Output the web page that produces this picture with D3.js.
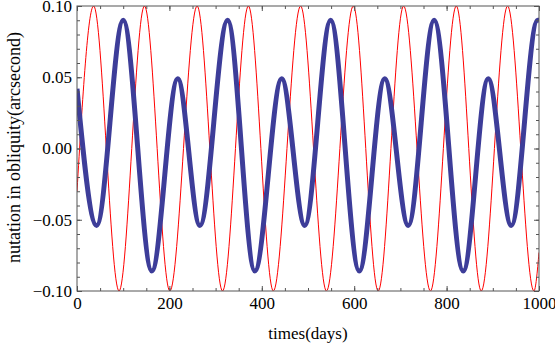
<!DOCTYPE html>
<html>
<head>
<meta charset="utf-8">
<script src="https://cdn.jsdelivr.net/npm/d3@7"></script>
<style>
  body { margin: 0; background: #fff; }
  text { font-family: "Liberation Serif", "Times New Roman", serif; }
</style>
</head>
<body>
<svg id="chart" width="555" height="345"></svg>
<script>
// red curve: extremes
const redDays = [0, 36, 91, 146, 201, 260, 315, 371, 425, 484, 540, 598, 652, 707, 765, 821, 875, 932, 989, 1000];
const redVals = [-0.03, 0.1, -0.1, 0.1, -0.1, 0.1, -0.1, 0.1, -0.1, 0.1, -0.1, 0.1, -0.1, 0.1, -0.1, 0.1, -0.1, 0.1, -0.1, -0.073];

// blue curve: extremes
const blueDays = [0, 42.5, 100, 162, 218, 266, 326, 385, 443, 493, 549, 611, 666, 717, 773, 836, 890, 940, 997, 1000];
const blueVals = [0.042, -0.054, 0.09, -0.086, 0.049, -0.054, 0.09, -0.086, 0.049, -0.054, 0.09, -0.086, 0.049, -0.054, 0.09, -0.086, 0.049, -0.054, 0.09, 0.0899];

const xTicks = [0, 200, 400, 600, 800, 1000];
const yTicks = [-0.10, -0.05, 0.00, 0.05, 0.10];

const svg = d3.select('#chart');
const margin = { top: 6, right: 16, bottom: 54, left: 77 };
const width = 555 - margin.left - margin.right;
const height = 345 - margin.top - margin.bottom;

const g = svg.append('g')
    .attr('transform', `translate(${margin.left},${margin.top})`);

const x = d3.scaleLinear().domain([0, 1000]).range([0, width]);
const y = d3.scaleLinear().domain([-0.1, 0.1]).range([height, 0]);

g.append('clipPath').attr('id', 'clip')
    .append('rect').attr('width', width).attr('height', height);

const line = d3.line()
    .x(d => x(d[0]))
    .y(d => y(d[1]))
    .curve(d3.curveMonotoneX);

const red = redDays.map((d, i) => [d, redVals[i]]);
const blue = blueDays.map((d, i) => [d, blueVals[i]]);

const plot = g.append('g').attr('clip-path', 'url(#clip)');

plot.append('path')
    .datum(red)
    .attr('d', line)
    .attr('fill', 'none')
    .attr('stroke', '#ff0000')
    .attr('stroke-width', 1);

plot.append('path')
    .datum(blue)
    .attr('d', line)
    .attr('fill', 'none')
    .attr('stroke', '#3d3d99')
    .attr('stroke-width', 5)
    .attr('stroke-linejoin', 'round');

// ticks pointing inward on all four sides
const fmtY = v => (v < 0 ? '\u2212' : '') + Math.abs(v).toFixed(2);
const xMinor = d3.range(0, 1001, 50);
const yMinor = d3.range(-10, 11).map(v => v / 100);

function styleAxis(sel) {
    sel.select('.domain').remove();
    sel.selectAll('.tick line').attr('stroke', '#555');
    sel.selectAll('text').attr('font-size', 17).attr('fill', '#000');
}

g.append('g').attr('transform', `translate(0,${height})`)
    .call(d3.axisBottom(x).tickValues(xMinor).tickSize(-3).tickFormat(''))
    .call(styleAxis);
g.append('g').attr('transform', `translate(0,${height})`)
    .call(d3.axisBottom(x).tickValues(xTicks).tickSize(-5).tickPadding(6).tickFormat(d3.format('d')))
    .call(styleAxis);
g.append('g')
    .call(d3.axisTop(x).tickValues(xMinor).tickSize(-3).tickFormat(''))
    .call(styleAxis);
g.append('g')
    .call(d3.axisTop(x).tickValues(xTicks).tickSize(-5).tickFormat(''))
    .call(styleAxis);

g.append('g')
    .call(d3.axisLeft(y).tickValues(yMinor).tickSize(-3).tickFormat(''))
    .call(styleAxis);
g.append('g')
    .call(d3.axisLeft(y).tickValues(yTicks).tickSize(-5).tickPadding(5).tickFormat(fmtY))
    .call(styleAxis);
g.append('g').attr('transform', `translate(${width},0)`)
    .call(d3.axisRight(y).tickValues(yMinor).tickSize(-3).tickFormat(''))
    .call(styleAxis);
g.append('g').attr('transform', `translate(${width},0)`)
    .call(d3.axisRight(y).tickValues(yTicks).tickSize(-5).tickFormat(''))
    .call(styleAxis);

// frame
g.append('rect')
    .attr('width', width)
    .attr('height', height)
    .attr('fill', 'none')
    .attr('stroke', '#555')
    .attr('stroke-width', 1);

// axis titles
svg.append('text')
    .attr('x', margin.left + width / 2)
    .attr('y', 339)
    .attr('text-anchor', 'middle')
    .attr('font-size', 17)
    .text('times(days)');

svg.append('text')
    .attr('transform', `translate(20,${margin.top + height / 2 - 1}) rotate(-90)`)
    .attr('text-anchor', 'middle')
    .attr('font-size', 18)
    .text('nutation in obliquity(arcsecond)');
</script>
</body>
</html>
